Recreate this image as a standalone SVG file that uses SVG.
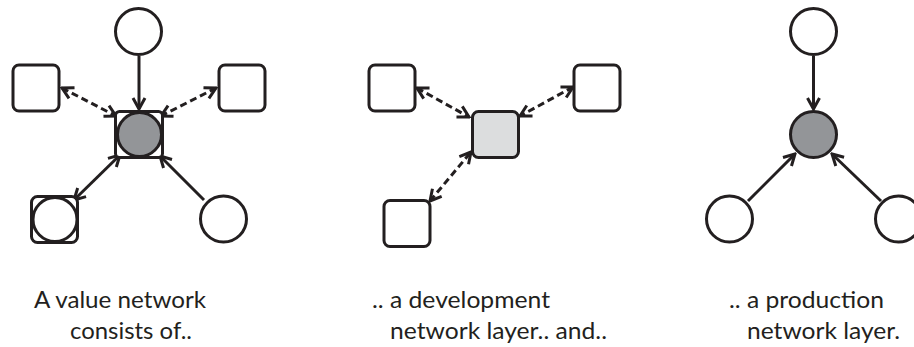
<svg xmlns="http://www.w3.org/2000/svg" width="914" height="347" viewBox="0 0 914 347">
<style>
.n{fill:#fff;stroke:#231f20;stroke-width:3}
.dark{fill:#939598}
.light{fill:#dcddde}
.c{fill:none;stroke:#231f20;stroke-width:3}
.d{stroke-dasharray:7 4}
.t{font-family:Lato,"Liberation Sans",Arial,sans-serif;font-size:23px;fill:#231f20}
</style>
<defs>
<marker id="ae" viewBox="-14 -8 16 16" refX="0" refY="0" markerWidth="16" markerHeight="16" markerUnits="userSpaceOnUse" orient="auto">
<path d="M-11,-6 L0,0 L-11,6" fill="none" stroke="#231f20" stroke-width="3" stroke-dasharray="none" stroke-linejoin="miter"/>
</marker>
<marker id="as" viewBox="-2 -8 16 16" refX="0" refY="0" markerWidth="16" markerHeight="16" markerUnits="userSpaceOnUse" orient="auto">
<path d="M11,-6 L0,0 L11,6" fill="none" stroke="#231f20" stroke-width="3" stroke-dasharray="none" stroke-linejoin="miter"/>
</marker>
</defs>
<g id="connectors">
<line class="c" x1="139" y1="56" x2="139" y2="109" marker-end="url(#ae)"/>
<line class="c d" x1="62" y1="88" x2="116" y2="116" marker-start="url(#as)" marker-end="url(#ae)"/>
<line class="c d" x1="216" y1="88" x2="161" y2="116" marker-start="url(#as)" marker-end="url(#ae)"/>
<line class="c" x1="74" y1="200" x2="120" y2="155" marker-start="url(#as)" marker-end="url(#ae)"/>
<line class="c" x1="204" y1="200" x2="160" y2="156" marker-end="url(#ae)"/>
<line class="c d" x1="417" y1="88" x2="469" y2="117" marker-start="url(#as)" marker-end="url(#ae)"/>
<line class="c d" x1="573" y1="87" x2="520" y2="116" marker-start="url(#as)" marker-end="url(#ae)"/>
<line class="c d" x1="430" y1="201" x2="471" y2="152" marker-start="url(#as)" marker-end="url(#ae)"/>
<line class="c" x1="813.5" y1="56" x2="813.5" y2="109" marker-end="url(#ae)"/>
<line class="c" x1="748" y1="201" x2="795" y2="154" marker-end="url(#ae)"/>
<line class="c" x1="881" y1="201" x2="832" y2="154" marker-end="url(#ae)"/>
</g>
<g id="p1-top"><circle class="n" cx="138.5" cy="31.5" r="23"/></g>
<g id="p1-left"><rect class="n" x="13" y="65" width="46" height="46" rx="6"/></g>
<g id="p1-right"><rect class="n" x="219" y="65" width="46" height="46" rx="6"/></g>
<g id="p1-center"><rect class="n" x="115.5" y="111.5" width="47" height="46" rx="4"/><circle class="n dark" cx="139.5" cy="134.5" r="22"/></g>
<g id="p1-bottomleft"><rect class="n" x="31.5" y="196.5" width="46" height="46" rx="6"/><circle class="n" cx="55" cy="219.5" r="22"/></g>
<g id="p1-bottomright"><circle class="n" cx="223.5" cy="219" r="23"/></g>
<g id="p2-left"><rect class="n" x="369" y="65" width="46" height="46" rx="6"/></g>
<g id="p2-right"><rect class="n" x="574" y="65" width="46" height="46" rx="6"/></g>
<g id="p2-center"><rect class="n light" x="472.5" y="111.5" width="46" height="46" rx="6"/></g>
<g id="p2-bottomleft"><rect class="n" x="384" y="200.5" width="46" height="46" rx="6"/></g>
<g id="p3-top"><circle class="n" cx="813.5" cy="31.5" r="23"/></g>
<g id="p3-center"><circle class="n dark" cx="813.5" cy="134.5" r="23"/></g>
<g id="p3-bottomleft"><circle class="n" cx="729.5" cy="219" r="23"/></g>
<g id="p3-bottomright"><circle class="n" cx="898.5" cy="219" r="23"/></g>
<g id="labels">
<text class="t" x="34" y="308" textLength="172" lengthAdjust="spacingAndGlyphs">A value network</text>
<text class="t" x="70" y="339" textLength="122" lengthAdjust="spacingAndGlyphs">consists of..</text>
<text class="t" x="372" y="308" textLength="178" lengthAdjust="spacingAndGlyphs">.. a development</text>
<text class="t" x="390" y="339" textLength="217" lengthAdjust="spacingAndGlyphs">network layer.. and..</text>
<text class="t" x="729" y="308" textLength="155" lengthAdjust="spacingAndGlyphs">.. a production</text>
<text class="t" x="747" y="339" textLength="153" lengthAdjust="spacingAndGlyphs">network layer.</text>
</g>
</svg>
